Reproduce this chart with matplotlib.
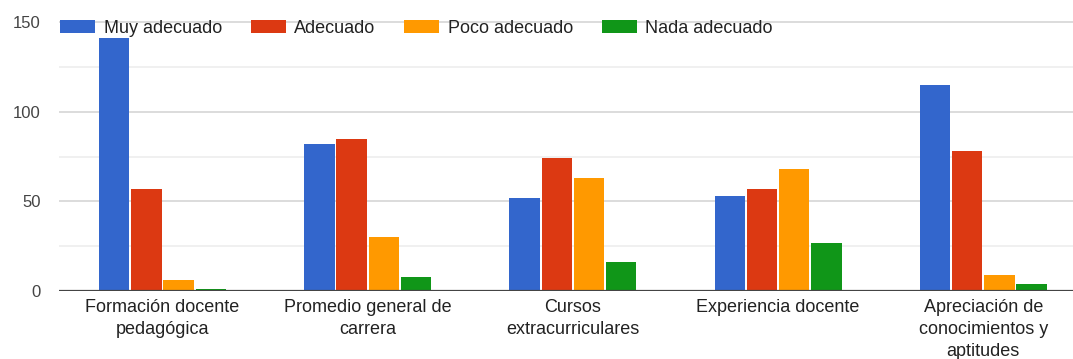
import matplotlib
matplotlib.use("Agg")
import matplotlib.pyplot as plt
from matplotlib.patches import Patch
import numpy as np

plt.rcParams['font.family'] = ['Liberation Sans', 'DejaVu Sans']

categories = [
    "Formación docente\npedagógica",
    "Promedio general de\ncarrera",
    "Cursos\nextracurriculares",
    "Experiencia docente",
    "Apreciación de\nconocimientos y\naptitudes",
]
series_names = ["Muy adecuado", "Adecuado", "Poco adecuado", "Nada adecuado"]
muy_adecuado = [141, 82, 52, 53, 115]
adecuado = [57, 85, 74, 57, 78]
poco_adecuado = [6, 30, 63, 68, 9]
nada_adecuado = [1, 8, 16, 27, 4]
y_ticks = [0, 50, 100, 150]

colors = ["#3366CC", "#DC3912", "#FF9900", "#109618"]
series = [muy_adecuado, adecuado, poco_adecuado, nada_adecuado]

W, H = 1073, 359
fig = plt.figure(figsize=(W / 100, H / 100), dpi=100)

# axes box in pixel terms: left edge 59, baseline at y=291, value 150 at y=22
px_per_unit = (291 - 22) / 150.0
top_px = 15
ax = fig.add_axes([59 / W, (H - 291) / H, 1 - 59 / W, (291 - top_px) / H])
ax.set_ylim(0, (291 - top_px) / px_per_unit)

group_px = 205.2
first_center_px = 162.5
ax.set_xlim((59 - first_center_px) / group_px, (W - first_center_px) / group_px)

x = np.arange(len(categories))
step = 0.157
width = 0.148
for i, (vals, name, col) in enumerate(zip(series, series_names, colors)):
    ax.bar(x + (i - 1.5) * step, vals, width=width, color=col, label=name,
           zorder=2, linewidth=0)

# grid
ax.set_yticks(y_ticks)
ax.set_yticks([25, 75, 125], minor=True)
ax.yaxis.grid(True, which='major', color='#d6d6d6', linewidth=1.2, zorder=0)
ax.yaxis.grid(True, which='minor', color='#eeeeee', linewidth=1.2, zorder=0)
ax.axhline(0, color='#444444', linewidth=1.6, zorder=3)

for s in ax.spines.values():
    s.set_visible(False)

ax.tick_params(axis='y', which='both', length=0, pad=13, labelsize=12,
               labelcolor='#444444')
ax.tick_params(axis='x', length=0, pad=6, labelsize=13, labelcolor='#222222')
ax.set_xticks(x)
ax.set_xticklabels(categories, linespacing=1.38)

handles = [Patch(facecolor=c, edgecolor='none') for c in colors]
fig.legend(handles, series_names, loc='center left',
           bbox_to_anchor=(60 / W, 1 - 28.4 / H), ncol=4, frameon=False,
           fontsize=13, labelcolor='#222222', handlelength=1.94,
           handleheight=0.74, handletextpad=0.47, columnspacing=1.6,
           borderpad=0, borderaxespad=0)

fig.savefig("out.png", dpi=100)
